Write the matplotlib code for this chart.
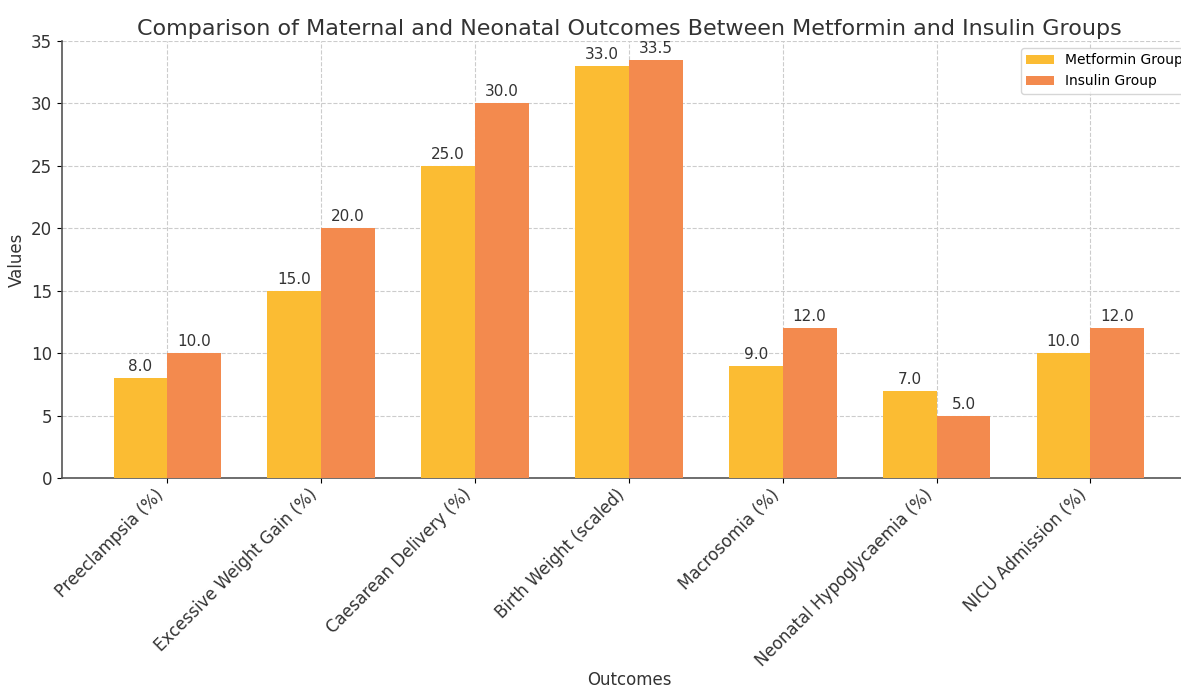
import matplotlib.pyplot as plt
import numpy as np

outcomes = ["Preeclampsia (%)", "Excessive Weight Gain (%)", "Caesarean Delivery (%)",
            "Birth Weight (scaled)", "Macrosomia (%)", "Neonatal Hypoglycaemia (%)",
            "NICU Admission (%)"]
metformin = [8.0, 15.0, 25.0, 33.0, 9.0, 7.0, 10.0]
insulin = [10.0, 20.0, 30.0, 33.5, 12.0, 5.0, 12.0]

fig = plt.figure(figsize=(11.81, 6.89), dpi=100)
ax = fig.add_axes([0.0525, 0.306, 0.96, 0.6345])

x = np.arange(len(outcomes))
w = 0.35
b1 = ax.bar(x - w/2, metformin, w, label="Metformin Group", color="#FBBC33", zorder=3)
b2 = ax.bar(x + w/2, insulin, w, label="Insulin Group", color="#F38A4E", zorder=3)

for bars in (b1, b2):
    for b in bars:
        ax.annotate(f"{b.get_height():.1f}", (b.get_x() + b.get_width()/2, b.get_height()),
                    xytext=(0, 3), textcoords="offset points", ha="center", va="bottom",
                    fontsize=11, color="#333333")

ax.set_xticks(x)
ax.set_xticklabels(outcomes, rotation=45, ha="right", fontsize=12, color="#333333")
ax.tick_params(axis="x", pad=2)
ax.tick_params(axis="y", labelsize=12, labelcolor="#333333")
ax.set_ylim(0, 35)
ax.set_xlabel("Outcomes", fontsize=12, color="#333333", labelpad=1)
ax.set_ylabel("Values", fontsize=12, color="#333333")
ax.set_title("Comparison of Maternal and Neonatal Outcomes Between Metformin and Insulin Groups",
             fontsize=16, color="#333333", pad=4)
ax.grid(True, linestyle="--", color="#cccccc", linewidth=0.8, zorder=0)
for s in ("top", "right"):
    ax.spines[s].set_visible(False)
for s in ("left", "bottom"):
    ax.spines[s].set_color("#555555")
    ax.spines[s].set_linewidth(1.2)
ax.legend(loc="upper right", fontsize=10)

fig.savefig("out.png", dpi=100)
